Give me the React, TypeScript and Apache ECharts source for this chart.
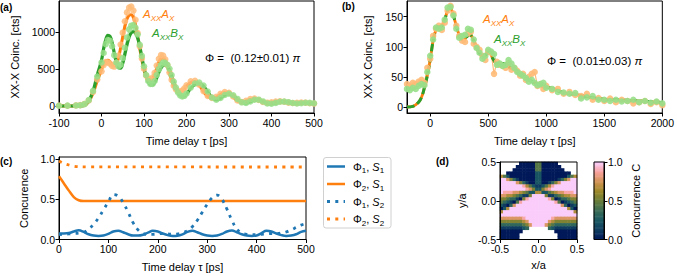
import React, { useEffect, useRef } from "react";
import * as echarts from "echarts";

const FONT = '"Liberation Sans", Arial, sans-serif';
const ORANGE = "#ff7f0e";
const GREEN = "#2ca02c";
const BLUE = "#1f77b4";
const L_ORANGE = "#ffbb78";
const L_GREEN = "#98df8a";
const BATLOW = ["#011959", "#103f60", "#1c5a62", "#3c6d56", "#687d39", "#9d892b", "#d29354", "#f8a19b", "#faccfa"];

// ---------- panel (a) ----------
const tA = [-100, -80, -60, -50, -40, -30, -20, -10,
  0, 5, 10, 15, 20, 25, 30, 35, 40, 45, 50, 55, 60, 65, 70, 75, 80, 85, 90, 95, 100, 105, 110, 115, 120, 125, 130, 135, 140, 145, 150, 155, 160, 165, 170, 175, 180, 185, 190, 195, 200,
  210, 220, 230, 240, 250, 260, 270, 280, 290, 300, 310, 320, 330, 340, 350, 360, 370, 380, 390, 400, 410, 420, 430, 440, 450, 460, 470, 480, 490, 500];
const fitAA = [0, 0, 0, 2, 10, 60, 170, 340,
  490, 570, 610, 620, 600, 565, 545, 570, 650, 790, 940, 1080, 1180, 1232, 1240, 1200, 1100, 950, 780, 625, 495, 405, 360, 352, 372, 430, 515, 595, 640, 650, 615, 540, 440, 345, 270, 218, 196, 192, 202, 232, 270,
  318, 328, 280, 195, 128, 104, 118, 158, 180, 172, 122, 68, 50, 64, 88, 96, 78, 50, 40, 45, 55, 60, 55, 43, 35, 38, 45, 43, 36, 30];
const fitAB = [0, 0, 0, 2, 10, 70, 200, 420,
  620, 780, 900, 960, 945, 860, 720, 590, 520, 515, 580, 700, 830, 935, 995, 1010, 990, 925, 810, 665, 520, 405, 325, 288, 285, 315, 380, 455, 515, 550, 556, 540, 490, 410, 325, 245, 180, 140, 125, 130, 160,
  240, 295, 308, 270, 190, 115, 82, 105, 145, 160, 140, 92, 48, 40, 58, 78, 82, 62, 33, 28, 38, 53, 58, 50, 38, 32, 35, 41, 40, 35];
const dataAA = [6, 4, 8, 12, 28, 75, 190, 360,
  470, 555, 595, 590, 575, 545, 535, 585, 685, 835, 995, 1150, 1270, 1335, 1350, 1295, 1170, 990, 810, 645, 505, 415, 372, 362, 385, 450, 548, 640, 690, 685, 635, 555, 455, 355, 275, 228, 202, 192, 210, 240, 282,
  335, 342, 288, 202, 135, 110, 126, 165, 190, 180, 130, 75, 55, 70, 95, 100, 82, 55, 45, 50, 60, 63, 58, 46, 40, 42, 48, 45, 38, 33];
const dataAB = [3, 5, 6, 10, 25, 80, 205, 400,
  590, 720, 840, 895, 885, 810, 690, 590, 540, 560, 650, 790, 930, 1040, 1090, 1100, 1060, 970, 830, 680, 540, 420, 340, 300, 300, 340, 420, 500, 560, 590, 585, 560, 505, 420, 330, 250, 185, 145, 130, 138, 170,
  250, 305, 318, 278, 196, 116, 86, 110, 150, 166, 146, 96, 50, 42, 62, 84, 86, 62, 35, 30, 42, 57, 60, 52, 40, 34, 38, 44, 42, 37];

// ---------- panel (b) ----------
const tBfit = [-200, -150, -100, -75, -50, -25, 0, 25, 50, 75, 100, 125, 150, 170, 190, 210, 235, 260, 285, 310, 340, 370, 400, 430, 460, 490,
  510, 540, 570, 600, 630, 660, 690, 720, 750, 780, 810, 840, 870, 900, 950, 1000, 1050, 1100, 1150, 1200, 1250, 1300, 1350, 1400, 1450, 1500, 1600, 1700, 1800, 1900, 2000];
const fitB = [0, 1, 8, 16, 32, 52, 78, 110, 128, 133, 135, 145, 160, 165, 158, 145, 128, 115, 112, 116, 120, 112, 98, 88, 84, 89,
  90, 80, 72, 70, 72, 70, 65, 64, 58, 54, 50, 47, 43, 40, 36, 33, 31, 27, 24, 22, 21, 19, 17, 15, 14, 13, 12, 11, 10, 9, 7];
const tBdata = [-200, -175, -150, -125, -100, -75, -50, -25, 0, 25, 50, 75, 100, 125, 150, 175, 200, 225, 250, 275, 300, 325, 350, 375, 400,
  425, 450, 475, 500, 525, 550, 575, 600, 625, 650, 675, 700, 725, 750, 775, 800, 825, 850, 875, 900, 925, 950, 975, 1000,
  1050, 1100, 1150, 1200, 1250, 1300, 1350, 1400, 1450, 1500, 1550, 1600, 1650, 1700, 1750, 1800, 1850, 1900, 1950, 2000];
const dataBA = [38, 35, 40, 38, 42, 45, 40, 65, 80, 118, 130, 135, 128, 140, 160, 168, 155, 135, 118, 110, 108, 122, 125, 105, 100,
  95, 85, 78, 92, 90, 55, 75, 70, 68, 65, 72, 62, 65, 60, 52, 55, 45, 50, 55, 58, 35, 38, 30, 35,
  28, 30, 22, 25, 20, 18, 22, 12, 15, 10, 14, 8, 12, 10, 6, 8, 10, 5, 8, 3];
const dataBB = [30, 28, 32, 30, 35, 38, 36, 58, 85, 112, 132, 130, 132, 145, 165, 166, 152, 130, 115, 118, 120, 130, 128, 112, 98,
  90, 80, 85, 95, 92, 88, 70, 72, 68, 70, 78, 72, 65, 58, 55, 52, 48, 42, 45, 40, 36, 38, 40, 32,
  30, 25, 24, 22, 23, 14, 16, 18, 12, 12, 10, 12, 9, 10, 12, 8, 10, 7, 9, 6];

// ---------- panel (c) ----------
const tC = [0, 10, 20, 30, 40, 50, 60, 70, 80, 90, 100, 110, 120, 130, 140, 150, 160, 170, 180, 190, 200, 210, 220, 230, 240, 250,
  260, 270, 280, 290, 300, 310, 320, 330, 340, 350, 360, 370, 380, 390, 400, 410, 420, 430, 440, 450, 460, 470, 480, 490, 500];
const phi1S1 = [0.075, 0.075, 0.08, 0.1, 0.115, 0.095, 0.065, 0.05, 0.045, 0.05,
  0.07, 0.1, 0.11, 0.09, 0.065, 0.05, 0.05, 0.06, 0.085, 0.108,
  0.1, 0.075, 0.055, 0.045, 0.048, 0.065, 0.095, 0.11, 0.09, 0.065,
  0.05, 0.045, 0.05, 0.07, 0.1, 0.112, 0.09, 0.065, 0.05, 0.045,
  0.05, 0.08, 0.108, 0.1, 0.075, 0.055, 0.045, 0.05, 0.065, 0.095, 0.11];
const phi1S2 = [0.06, 0.065, 0.07, 0.075, 0.08, 0.09, 0.13, 0.19, 0.27, 0.37,
  0.47, 0.56, 0.54, 0.46, 0.34, 0.21, 0.12, 0.075, 0.065, 0.065,
  0.07, 0.075, 0.07, 0.065, 0.07, 0.085, 0.11, 0.16, 0.24, 0.34,
  0.44, 0.52, 0.555, 0.5, 0.38, 0.24, 0.13, 0.08, 0.065, 0.06,
  0.06, 0.065, 0.07, 0.075, 0.075, 0.08, 0.095, 0.12, 0.15, 0.18, 0.2];
const tPhi2S1 = [0, 10, 20, 30, 40, 50, 500];
const phi2S1 = [0.79, 0.7, 0.61, 0.53, 0.49, 0.48, 0.48];
const tPhi2S2 = [0, 10, 20, 30, 40, 500];
const phi2S2 = [0.98, 0.95, 0.93, 0.915, 0.908, 0.905];

// ---------- panel (d): concurrence map, rows top->bottom, '.' = no value, digit d -> d/9 ----------
const dRows = [
  "......000004400000......",
  ".....00000044000000.....",
  "....0000000440000000....",
  "..00000000022000000000..",
  "642000000002200000000246",
  "997531000002200000135799",
  "999997531002200135799999",
  "999999986421124689999999",
  "999999998752257899999999",
  "988877654226622456778889",
  "776654311599995113456677",
  "554331058999999850133455",
  "432104899999999998401234",
  "210379999999999999973012",
  "026999999999999999999620",
  "699999999999999999999996",
  "999999999999999999999999",
  "777777789999999987777777",
  "555555567999999765555555",
  "333333345799997543333333",
  "111111123......321111111",
  "0000000..........0000000",
  "000000............000000",
  "000000............000000",
];
const dTicks = [-0.5, 0, 0.5];
const cbarTicks = [0, 0.5, 1];

const pairs = (xs: number[], ys: number[]) => xs.map((x, i) => [x, ys[i]]);

function valAxis(o: any) {
  const { labelExtra, tickValues, ...rest } = o;
  return {
    type: "value",
    axisLine: { show: true, onZero: false, lineStyle: { color: "#000", width: 1 } },
    axisTick: { show: true, inside: false, length: 3.5, lineStyle: { color: "#000", width: 1 }, ...(tickValues ? { customValues: tickValues } : {}) },
    axisLabel: {
      color: "#000", fontSize: 10.5, fontFamily: FONT, margin: 4,
      formatter: (v: number) => String(v),
      ...(tickValues ? { customValues: tickValues } : {}),
      ...(labelExtra || {}),
    },
    splitLine: { show: false },
    nameLocation: "middle",
    nameTextStyle: { color: "#000", fontSize: 11, fontFamily: FONT },
    ...rest,
  };
}

function hiddenCat(o: any) {
  return { type: "category", show: false, axisLine: { show: false }, axisTick: { show: false }, axisLabel: { show: false }, splitLine: { show: false }, ...o };
}

const fmt1 = (v: number) => v.toFixed(1);

function subText(main: string, sub: string, main2: string, sub2: string, color: string) {
  return {
    text: `{a|${main}}{s|${sub}}{a|${main2}}{s|${sub2}}`,
    rich: {
      a: { fontSize: 11.5, fontStyle: "italic", fontFamily: FONT, fill: color, color, lineHeight: 17 },
      s: { fontSize: 8, fontStyle: "italic", fontFamily: FONT, fill: color, color, verticalAlign: "bottom" },
    },
  };
}

function txt(x: number, y: number, style: any, extra: any = {}) {
  return {
    type: "text",
    x,
    y,
    z: 100,
    style: {
      fontFamily: FONT,
      fill: "#000",
      align: "left",
      verticalAlign: "middle",
      textAlign: "left",
      textVerticalAlign: "middle",
      ...style,
    },
    ...extra,
  };
}

function legendLabel(sym: string, n: string, m: string) {
  return {
    text: `{n|${sym}}{s|${n}}{n|, }{i|S}{s|${m}}`,
    rich: {
      n: { fontSize: 11, fontFamily: FONT, fill: "#000", color: "#000", lineHeight: 16 },
      i: { fontSize: 11, fontStyle: "italic", fontFamily: FONT, fill: "#000", color: "#000", lineHeight: 16 },
      s: { fontSize: 8, fontFamily: FONT, fill: "#000", color: "#000", verticalAlign: "bottom" },
    },
  };
}

export default function App() {
  const ref = useRef<HTMLDivElement>(null);
  useEffect(() => {
    const chart = echarts.init(ref.current!, null, { renderer: "svg" });

    const heatData: number[][] = [];
    dRows.forEach((row, r) => {
      for (let c = 0; c < row.length; c++) {
        const ch = row[c];
        if (ch !== ".") heatData.push([c, dRows.length - 1 - r, Number(ch) / 9]);
      }
    });
    const nCols = dRows[0].length;
    const cbN = 64;
    const cbData = Array.from({ length: cbN }, (_, i) => [0, i, i / (cbN - 1)]);

    const border = { show: true, borderColor: "#000", borderWidth: 1, backgroundColor: "transparent" };

    const legendRows = [
      { y: 166.5, color: BLUE, dash: null, label: legendLabel("Φ", "1", "1") },
      { y: 184, color: ORANGE, dash: null, label: legendLabel("Φ", "2", "1") },
      { y: 201.5, color: BLUE, dash: [3, 5.3], label: legendLabel("Φ", "1", "2") },
      { y: 219, color: ORANGE, dash: [3, 5.3], label: legendLabel("Φ", "2", "2") },
    ];

    const option: any = {
      animation: false,
      textStyle: { fontFamily: FONT },
      grid: [
        { left: 59, top: 1, width: 255, height: 112, ...border },
        { left: 407, top: 1, width: 257, height: 112, ...border },
        { left: 59, top: 157, width: 247, height: 82.5, ...border },
        { left: 500, top: 162, width: 77, height: 77.5, ...border, z: 3 },
        { left: 594, top: 162, width: 10, height: 77.5, ...border, z: 3 },
      ],
      xAxis: [
        valAxis({ gridIndex: 0, min: -100, max: 500, interval: 100, name: "Time delay τ [ps]", nameGap: 22 }),
        valAxis({ gridIndex: 1, min: -200, max: 2000, tickValues: [0, 500, 1000, 1500, 2000], name: "Time delay τ [ps]", nameGap: 22 }),
        valAxis({ gridIndex: 2, min: 0, max: 500, interval: 100, name: "Time delay τ [ps]", nameGap: 22 }),
        valAxis({ gridIndex: 3, min: -0.5, max: 0.5, tickValues: dTicks, labelExtra: { formatter: fmt1 }, name: "x/a", nameGap: 20, z: 5 }),
        hiddenCat({ gridIndex: 3, position: "top", data: Array.from({ length: nCols }, (_, i) => String(i)) }),
        hiddenCat({ gridIndex: 4, position: "top", data: ["0"] }),
      ],
      yAxis: [
        valAxis({ gridIndex: 0, min: -95, max: 1425, tickValues: [0, 500, 1000], name: "XX-X Coinc. [cts]", nameGap: 39 }),
        valAxis({ gridIndex: 1, min: -10, max: 176, tickValues: [0, 50, 100, 150], name: "XX-X Coinc. [cts]", nameGap: 34 }),
        valAxis({ gridIndex: 2, min: 0, max: 1.03, tickValues: [0, 0.5, 1], labelExtra: { formatter: fmt1 }, name: "Concurence", nameGap: 30 }),
        valAxis({ gridIndex: 3, min: -0.5, max: 0.5, tickValues: dTicks, labelExtra: { formatter: fmt1 }, name: "y/a", nameGap: 33, z: 5 }),
        hiddenCat({ gridIndex: 3, position: "right", data: dRows.map((_, i) => String(i)) }),
        hiddenCat({ gridIndex: 4, position: "left", data: Array.from({ length: cbN }, (_, i) => String(i)) }),
        valAxis({ gridIndex: 4, position: "right", min: 0, max: 1, tickValues: cbarTicks, labelExtra: { formatter: fmt1 }, name: "Concurrence C", nameGap: 26, z: 5 }),
      ],
      visualMap: {
        type: "continuous",
        show: false,
        min: 0,
        max: 1,
        dimension: 2,
        seriesIndex: [12, 13],
        inRange: { color: BATLOW },
      },
      series: [
        // (a)
        { type: "line", xAxisIndex: 0, yAxisIndex: 0, data: pairs(tA, dataAA), symbol: "circle", symbolSize: 6.5, showAllSymbol: true,
          itemStyle: { color: L_ORANGE, opacity: 0.85 }, lineStyle: { color: L_ORANGE, width: 1, opacity: 0.85 } },
        { type: "line", xAxisIndex: 0, yAxisIndex: 0, data: pairs(tA, dataAB), symbol: "circle", symbolSize: 6.5, showAllSymbol: true,
          itemStyle: { color: L_GREEN, opacity: 0.85 }, lineStyle: { color: L_GREEN, width: 1, opacity: 0.85 } },
        { type: "line", xAxisIndex: 0, yAxisIndex: 0, data: pairs(tA, fitAA), showSymbol: false, smooth: 0.4, lineStyle: { color: ORANGE, width: 3 } },
        { type: "line", xAxisIndex: 0, yAxisIndex: 0, data: pairs(tA, fitAB), showSymbol: false, smooth: 0.4, lineStyle: { color: GREEN, width: 3.2 } },
        // (b)
        { type: "line", xAxisIndex: 1, yAxisIndex: 1, data: pairs(tBdata, dataBA), symbol: "circle", symbolSize: 6.5, showAllSymbol: true,
          itemStyle: { color: L_ORANGE, opacity: 0.9 }, lineStyle: { color: L_ORANGE, width: 1.2 } },
        { type: "line", xAxisIndex: 1, yAxisIndex: 1, data: pairs(tBdata, dataBB), symbol: "circle", symbolSize: 6.5, showAllSymbol: true,
          itemStyle: { color: L_GREEN, opacity: 0.9 }, lineStyle: { color: L_GREEN, width: 1.2 } },
        { type: "line", xAxisIndex: 1, yAxisIndex: 1, data: pairs(tBfit, fitB), showSymbol: false, smooth: 0.4, lineStyle: { color: ORANGE, width: 2.8 } },
        { type: "line", xAxisIndex: 1, yAxisIndex: 1, data: pairs(tBfit, fitB), showSymbol: false, smooth: 0.4, lineStyle: { color: GREEN, width: 3, type: [7.5, 3.5] } },
        // (c)
        { type: "line", xAxisIndex: 2, yAxisIndex: 2, data: pairs(tC, phi1S1), showSymbol: false, smooth: 0.4, lineStyle: { color: BLUE, width: 2.5 } },
        { type: "line", xAxisIndex: 2, yAxisIndex: 2, data: pairs(tPhi2S1, phi2S1), showSymbol: false, smooth: 0.3, lineStyle: { color: ORANGE, width: 2.5 } },
        { type: "line", xAxisIndex: 2, yAxisIndex: 2, data: pairs(tC, phi1S2), showSymbol: false, smooth: 0.4, lineStyle: { color: BLUE, width: 2.8, type: [3, 5.3], cap: "butt" } },
        { type: "line", xAxisIndex: 2, yAxisIndex: 2, data: pairs(tPhi2S2, phi2S2), showSymbol: false, smooth: 0.3, lineStyle: { color: ORANGE, width: 2.8, type: [3, 5.3], cap: "butt" } },
        // (d)
        { type: "heatmap", xAxisIndex: 4, yAxisIndex: 4, data: heatData, progressive: 0, itemStyle: { borderWidth: 0 }, emphasis: { disabled: true } },
        { type: "heatmap", xAxisIndex: 5, yAxisIndex: 5, data: cbData, progressive: 0, itemStyle: { borderWidth: 0 }, emphasis: { disabled: true } },
      ],
      graphic: [
        txt(0, 7, { text: "(a)", fontSize: 10, fontWeight: "bold" }),
        txt(342, 6, { text: "(b)", fontSize: 10, fontWeight: "bold" }),
        txt(0, 161, { text: "(c)", fontSize: 10, fontWeight: "bold" }),
        txt(436, 161, { text: "(d)", fontSize: 10, fontWeight: "bold" }),
        txt(143, 14, subText("A", "XX", "A", "X", ORANGE)),
        txt(152, 33, subText("A", "XX", "B", "X", GREEN)),
        txt(205, 58, { text: "Φ =  (0.12±0.01) {i|π}", fontSize: 11.5, rich: { i: { fontStyle: "italic", fontSize: 11.5, fontFamily: FONT } } }),
        txt(483, 19, subText("A", "XX", "A", "X", ORANGE)),
        txt(494, 39, subText("A", "XX", "B", "X", GREEN)),
        txt(547, 61, { text: "Φ =  (0.01±0.03) {i|π}", fontSize: 11.5, rich: { i: { fontStyle: "italic", fontSize: 11.5, fontFamily: FONT } } }),
        {
          type: "rect",
          z: 90,
          shape: { x: 323.5, y: 157.5, width: 67.5, height: 70.5, r: 2.5 },
          style: { fill: "rgba(255,255,255,0.8)", stroke: "#d0d0d0", lineWidth: 1 },
        },
        ...legendRows.map((r) => ({
          type: "line",
          z: 95,
          shape: { x1: 327, y1: r.y, x2: 345, y2: r.y },
          style: { stroke: r.color, lineWidth: r.dash ? 2.8 : 2.5, lineDash: r.dash || undefined, lineCap: "butt" },
        })),
        ...legendRows.map((r) => txt(353, r.y, r.label)),
      ],
    };
    chart.setOption(option);
    return () => chart.dispose();
  }, []);
  return <div ref={ref} style={{ position: "absolute", left: 0, top: 0, width: 677, height: 276 }} />;
}
